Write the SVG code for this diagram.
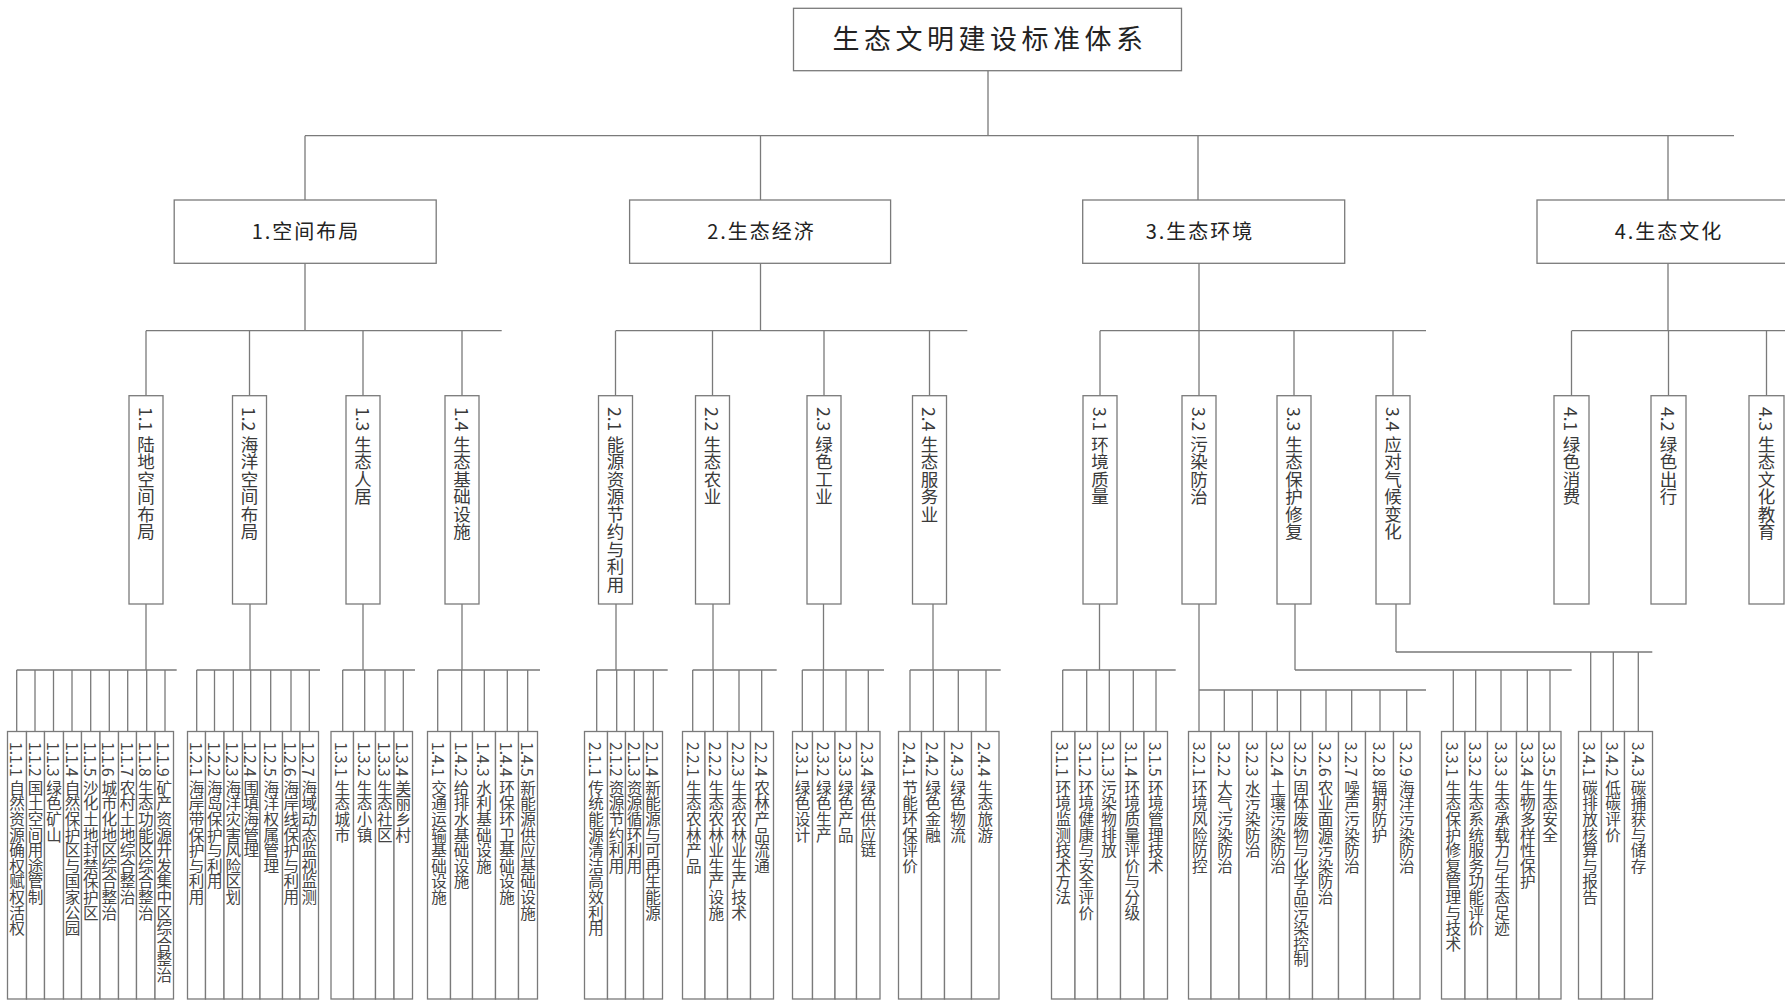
<svg xmlns="http://www.w3.org/2000/svg" width="1785" height="1000" viewBox="0 0 1785 1000">
<style>
rect{fill:#fff;stroke:#7a7a7a;stroke-width:1.3}
.c{fill:none;stroke:#7a7a7a;stroke-width:1.3}
text{font-family:"Noto Sans CJK SC","Liberation Sans",sans-serif;fill:#333}
.t0{font-size:27px;letter-spacing:4.5px;text-anchor:middle;fill:#222}
.t1{font-size:20px;letter-spacing:2px;text-anchor:middle;fill:#222}
.t2{font-size:17.5px;writing-mode:vertical-rl;fill:#3a3a3a}
.t3{font-size:15.6px;writing-mode:vertical-rl;fill:#444}
</style>
<rect width="1785" height="1000" style="fill:#fff;stroke:none"/>
<g id="connectors">
<path class="c" d="M988 70.7V135.7M305 135.7H1734M305 135.7V200M760.5 135.7V200M1198 135.7V200M1668 135.7V200"/>
<path class="c" d="M305 263.3V330.7M760.5 263.3V330.7M1199 263.3V330.7M1668 263.3V330.7"/>
<path class="c" d="M146 330.7H501.7M615.7 330.7H967.3M1100 330.7H1426M1571.7 330.7H1785"/>
<path class="c" d="M146 330.7V395.7M249.5 330.7V395.7M363 330.7V395.7M462 330.7V395.7M615.5 330.7V395.7M712.5 330.7V395.7M824 330.7V395.7M929.5 330.7V395.7M1100 330.7V395.7M1199 330.7V395.7M1294 330.7V395.7M1393 330.7V395.7M1571.5 330.7V395.7M1668.5 330.7V395.7M1766.5 330.7V395.7"/>
<path class="c" d="M146 604V670M250 604V670M363 604V670M462 604V670M616 604V670M713 604V670M823.5 604V670M933 604V670M1099.5 604V670M1199 604V690M1295 604V670M1396 604V652"/>
<path class="c" d="M16.7 670H176.7M196.7 670H320M342.7 670H415M437.7 670H540M596.7 670H667.7M692.7 670H776.7M802.3 670H884M910 670H1000.7M1062.7 670H1175.7M1199 690H1426M1295 670H1571.7M1396 652H1652.3"/>
<path class="c" d="M16.7 670V731.5M35 670V731.5M53.5 670V731.5M72 670V731.5M90.7 670V731.5M109.3 670V731.5M127.7 670V731.5M146.7 670V731.5M165 670V731.5"/>
<path class="c" d="M196.7 670V731.5M214.5 670V731.5M233.3 670V731.5M250.7 670V731.5M270.7 670V731.5M291 670V731.5M309.3 670V731.5"/>
<path class="c" d="M342.7 670V731.5M364.7 670V731.5M385 670V731.5M403.3 670V731.5"/>
<path class="c" d="M437.7 670V731.5M461.7 670V731.5M484.3 670V731.5M507.3 670V731.5M527.7 670V731.5"/>
<path class="c" d="M596.7 670V731.5M616.7 670V731.5M634.3 670V731.5M653.3 670V731.5"/>
<path class="c" d="M692.7 670V731.5M713.3 670V731.5M739 670V731.5M761.7 670V731.5"/>
<path class="c" d="M802.3 670V731.5M823.3 670V731.5M846 670V731.5M868.3 670V731.5"/>
<path class="c" d="M910 670V731.5M933.3 670V731.5M958.3 670V731.5M986 670V731.5"/>
<path class="c" d="M1062.7 670V731.5M1086.7 670V731.5M1109.3 670V731.5M1133.3 670V731.5M1156 670V731.5"/>
<path class="c" d="M1199 690V731.5M1224.3 690V731.5M1252.3 690V731.5M1277.3 690V731.5M1300.7 690V731.5M1326 690V731.5M1351.7 690V731.5M1380 690V731.5M1406.7 690V731.5"/>
<path class="c" d="M1453.3 670V731.5M1475.7 670V731.5M1501 670V731.5M1527.3 670V731.5M1550 670V731.5"/>
<path class="c" d="M1590.7 652V731.5M1613.3 652V731.5M1638.3 652V731.5"/>
</g>
<g id="root"><rect x="793.5" y="8.3" width="388" height="62.4"/><text class="t0" x="990" y="49">生态文明建设标准体系</text></g>
<g id="n1"><rect x="174.2" y="200" width="262" height="63.3"/><text class="t1" x="306" y="239">1.空间布局</text></g>
<g id="n2"><rect x="629.6" y="200" width="261" height="63.3"/><text class="t1" x="761.5" y="239">2.生态经济</text></g>
<g id="n3"><rect x="1082.7" y="200" width="262" height="63.3"/><text class="t1" x="1200" y="239">3.生态环境</text></g>
<g id="n4"><rect x="1537" y="200" width="262" height="63.3"/><text class="t1" x="1669" y="239">4.生态文化</text></g>
<g id="n1-1"><rect x="129" y="395.7" width="34" height="208.3"/><text class="t2" x="146" y="407">1.1 陆地空间布局</text></g>
<g id="n1-2"><rect x="232.5" y="395.7" width="34" height="208.3"/><text class="t2" x="249.5" y="407">1.2 海洋空间布局</text></g>
<g id="n1-3"><rect x="346" y="395.7" width="34" height="208.3"/><text class="t2" x="363" y="407">1.3 生态人居</text></g>
<g id="n1-4"><rect x="445" y="395.7" width="34" height="208.3"/><text class="t2" x="462" y="407">1.4 生态基础设施</text></g>
<g id="n2-1"><rect x="598.5" y="395.7" width="34" height="208.3"/><text class="t2" x="615.5" y="407">2.1 能源资源节约与利用</text></g>
<g id="n2-2"><rect x="695.5" y="395.7" width="34" height="208.3"/><text class="t2" x="712.5" y="407">2.2 生态农业</text></g>
<g id="n2-3"><rect x="807" y="395.7" width="34" height="208.3"/><text class="t2" x="824" y="407">2.3 绿色工业</text></g>
<g id="n2-4"><rect x="912.5" y="395.7" width="34" height="208.3"/><text class="t2" x="929.5" y="407">2.4 生态服务业</text></g>
<g id="n3-1"><rect x="1083" y="395.7" width="34" height="208.3"/><text class="t2" x="1100" y="407">3.1 环境质量</text></g>
<g id="n3-2"><rect x="1182" y="395.7" width="34" height="208.3"/><text class="t2" x="1199" y="407">3.2 污染防治</text></g>
<g id="n3-3"><rect x="1277" y="395.7" width="34" height="208.3"/><text class="t2" x="1294" y="407">3.3 生态保护修复</text></g>
<g id="n3-4"><rect x="1376" y="395.7" width="34" height="208.3"/><text class="t2" x="1393" y="407">3.4 应对气候变化</text></g>
<g id="n4-1"><rect x="1554" y="395.7" width="35" height="208.3"/><text class="t2" x="1571.5" y="407">4.1 绿色消费</text></g>
<g id="n4-2"><rect x="1651" y="395.7" width="35" height="208.3"/><text class="t2" x="1668.5" y="407">4.2 绿色出行</text></g>
<g id="n4-3"><rect x="1749" y="395.7" width="35" height="208.3"/><text class="t2" x="1766.5" y="407">4.3 生态文化教育</text></g>
<g id="n1-1-1"><rect x="7.5" y="731.5" width="19" height="267.5"/><text class="t3" x="17" y="742">1.1.1 自然资源确权赋权活权</text></g>
<g id="n1-1-2"><rect x="26.5" y="731.5" width="18" height="267.5"/><text class="t3" x="35.5" y="742">1.1.2 国土空间用途管制</text></g>
<g id="n1-1-3"><rect x="44.5" y="731.5" width="19" height="267.5"/><text class="t3" x="54" y="742">1.1.3 绿色矿山</text></g>
<g id="n1-1-4"><rect x="63.5" y="731.5" width="18" height="267.5"/><text class="t3" x="72.5" y="742">1.1.4 自然保护区与国家公园</text></g>
<g id="n1-1-5"><rect x="81.5" y="731.5" width="18.5" height="267.5"/><text class="t3" x="90.7" y="742">1.1.5 沙化土地封禁保护区</text></g>
<g id="n1-1-6"><rect x="100" y="731.5" width="18.5" height="267.5"/><text class="t3" x="109.3" y="742">1.1.6 城市化地区综合整治</text></g>
<g id="n1-1-7"><rect x="118.5" y="731.5" width="18" height="267.5"/><text class="t3" x="127.5" y="742">1.1.7 农村土地综合整治</text></g>
<g id="n1-1-8"><rect x="136.5" y="731.5" width="18.5" height="267.5"/><text class="t3" x="145.8" y="742">1.1.8 生态功能区综合整治</text></g>
<g id="n1-1-9"><rect x="155" y="731.5" width="18.5" height="267.5"/><text class="t3" x="164.3" y="742">1.1.9 矿产资源开发集中区综合整治</text></g>
<g id="n1-2-1"><rect x="187.5" y="731.5" width="18" height="267.5"/><text class="t3" x="196.5" y="742">1.2.1 海岸带保护与利用</text></g>
<g id="n1-2-2"><rect x="205.5" y="731.5" width="18.5" height="267.5"/><text class="t3" x="214.8" y="742">1.2.2 海岛保护与利用</text></g>
<g id="n1-2-3"><rect x="224" y="731.5" width="18.5" height="267.5"/><text class="t3" x="233.3" y="742">1.2.3 海洋灾害风险区划</text></g>
<g id="n1-2-4"><rect x="242.5" y="731.5" width="17.5" height="267.5"/><text class="t3" x="251.3" y="742">1.2.4 围填海管理</text></g>
<g id="n1-2-5"><rect x="260" y="731.5" width="22.5" height="267.5"/><text class="t3" x="271.3" y="742">1.2.5 海洋权属管理</text></g>
<g id="n1-2-6"><rect x="282.5" y="731.5" width="17.5" height="267.5"/><text class="t3" x="291.3" y="742">1.2.6 海岸线保护与利用</text></g>
<g id="n1-2-7"><rect x="300" y="731.5" width="18.5" height="267.5"/><text class="t3" x="309.3" y="742">1.2.7 海域动态监视监测</text></g>
<g id="n1-3-1"><rect x="331" y="731.5" width="22.5" height="267.5"/><text class="t3" x="342.3" y="742">1.3.1 生态城市</text></g>
<g id="n1-3-2"><rect x="353.5" y="731.5" width="22" height="267.5"/><text class="t3" x="364.5" y="742">1.3.2 生态小镇</text></g>
<g id="n1-3-3"><rect x="375.5" y="731.5" width="18.5" height="267.5"/><text class="t3" x="384.8" y="742">1.3.3 生态社区</text></g>
<g id="n1-3-4"><rect x="394" y="731.5" width="18.5" height="267.5"/><text class="t3" x="403.3" y="742">1.3.4 美丽乡村</text></g>
<g id="n1-4-1"><rect x="427.5" y="731.5" width="23" height="267.5"/><text class="t3" x="439" y="742">1.4.1 交通运输基础设施</text></g>
<g id="n1-4-2"><rect x="450.5" y="731.5" width="22" height="267.5"/><text class="t3" x="461.5" y="742">1.4.2 给排水基础设施</text></g>
<g id="n1-4-3"><rect x="472.5" y="731.5" width="23" height="267.5"/><text class="t3" x="484" y="742">1.4.3 水利基础设施</text></g>
<g id="n1-4-4"><rect x="495.5" y="731.5" width="23" height="267.5"/><text class="t3" x="507" y="742">1.4.4 环保环卫基础设施</text></g>
<g id="n1-4-5"><rect x="518.5" y="731.5" width="19" height="267.5"/><text class="t3" x="528" y="742">1.4.5 新能源供应基础设施</text></g>
<g id="n2-1-1"><rect x="584.5" y="731.5" width="23" height="267.5"/><text class="t3" x="596" y="742">2.1.1 传统能源清洁高效利用</text></g>
<g id="n2-1-2"><rect x="607.5" y="731.5" width="18" height="267.5"/><text class="t3" x="616.5" y="742">2.1.2 资源节约利用</text></g>
<g id="n2-1-3"><rect x="625.5" y="731.5" width="18" height="267.5"/><text class="t3" x="634.5" y="742">2.1.3 资源循环利用</text></g>
<g id="n2-1-4"><rect x="643.5" y="731.5" width="19" height="267.5"/><text class="t3" x="653" y="742">2.1.4 新能源与可再生能源</text></g>
<g id="n2-2-1"><rect x="682.5" y="731.5" width="22.5" height="267.5"/><text class="t3" x="693.7" y="742">2.2.1 生态农林产品</text></g>
<g id="n2-2-2"><rect x="705" y="731.5" width="22.5" height="267.5"/><text class="t3" x="716.2" y="742">2.2.2 生态农林业生产设施</text></g>
<g id="n2-2-3"><rect x="727.5" y="731.5" width="23" height="267.5"/><text class="t3" x="739" y="742">2.2.3 生态农林业生产技术</text></g>
<g id="n2-2-4"><rect x="750.5" y="731.5" width="23" height="267.5"/><text class="t3" x="762" y="742">2.2.4 农林产品流通</text></g>
<g id="n2-3-1"><rect x="792.5" y="731.5" width="20" height="267.5"/><text class="t3" x="802.5" y="742">2.3.1 绿色设计</text></g>
<g id="n2-3-2"><rect x="812.5" y="731.5" width="22.5" height="267.5"/><text class="t3" x="823.7" y="742">2.3.2 绿色生产</text></g>
<g id="n2-3-3"><rect x="835" y="731.5" width="21.5" height="267.5"/><text class="t3" x="845.8" y="742">2.3.3 绿色产品</text></g>
<g id="n2-3-4"><rect x="856.5" y="731.5" width="23.5" height="267.5"/><text class="t3" x="868.3" y="742">2.3.4 绿色供应链</text></g>
<g id="n2-4-1"><rect x="898.5" y="731.5" width="23" height="267.5"/><text class="t3" x="910" y="742">2.4.1 节能环保评价</text></g>
<g id="n2-4-2"><rect x="921.5" y="731.5" width="23" height="267.5"/><text class="t3" x="933" y="742">2.4.2 绿色金融</text></g>
<g id="n2-4-3"><rect x="944.5" y="731.5" width="27" height="267.5"/><text class="t3" x="958" y="742">2.4.3 绿色物流</text></g>
<g id="n2-4-4"><rect x="971.5" y="731.5" width="27.5" height="267.5"/><text class="t3" x="985.3" y="742">2.4.4 生态旅游</text></g>
<g id="n3-1-1"><rect x="1051.5" y="731.5" width="23.5" height="267.5"/><text class="t3" x="1063.3" y="742">3.1.1 环境监测技术方法</text></g>
<g id="n3-1-2"><rect x="1075" y="731.5" width="22.5" height="267.5"/><text class="t3" x="1086.3" y="742">3.1.2 环境健康与安全评价</text></g>
<g id="n3-1-3"><rect x="1097.5" y="731.5" width="23" height="267.5"/><text class="t3" x="1109" y="742">3.1.3 污染物排放</text></g>
<g id="n3-1-4"><rect x="1120.5" y="731.5" width="23.5" height="267.5"/><text class="t3" x="1132.3" y="742">3.1.4 环境质量评价与分级</text></g>
<g id="n3-1-5"><rect x="1144" y="731.5" width="23.5" height="267.5"/><text class="t3" x="1155.8" y="742">3.1.5 环境管理技术</text></g>
<g id="n3-2-1"><rect x="1188.5" y="731.5" width="22.5" height="267.5"/><text class="t3" x="1199.7" y="742">3.2.1 环境风险防控</text></g>
<g id="n3-2-2"><rect x="1211" y="731.5" width="28" height="267.5"/><text class="t3" x="1225" y="742">3.2.2 大气污染防治</text></g>
<g id="n3-2-3"><rect x="1239" y="731.5" width="27.5" height="267.5"/><text class="t3" x="1252.7" y="742">3.2.3 水污染防治</text></g>
<g id="n3-2-4"><rect x="1266.5" y="731.5" width="23" height="267.5"/><text class="t3" x="1278" y="742">3.2.4 土壤污染防治</text></g>
<g id="n3-2-5"><rect x="1289.5" y="731.5" width="23" height="267.5"/><text class="t3" x="1301" y="742">3.2.5 固体废物与化学品污染控制</text></g>
<g id="n3-2-6"><rect x="1312.5" y="731.5" width="26" height="267.5"/><text class="t3" x="1325.5" y="742">3.2.6 农业面源污染防治</text></g>
<g id="n3-2-7"><rect x="1338.5" y="731.5" width="27" height="267.5"/><text class="t3" x="1352" y="742">3.2.7 噪声污染防治</text></g>
<g id="n3-2-8"><rect x="1365.5" y="731.5" width="28" height="267.5"/><text class="t3" x="1379.5" y="742">3.2.8 辐射防护</text></g>
<g id="n3-2-9"><rect x="1393.5" y="731.5" width="26.5" height="267.5"/><text class="t3" x="1406.7" y="742">3.2.9 海洋污染防治</text></g>
<g id="n3-3-1"><rect x="1441.5" y="731.5" width="23.5" height="267.5"/><text class="t3" x="1453.3" y="742">3.3.1 生态保护修复管理与技术</text></g>
<g id="n3-3-2"><rect x="1465" y="731.5" width="22.5" height="267.5"/><text class="t3" x="1476.3" y="742">3.3.2 生态系统服务功能评价</text></g>
<g id="n3-3-3"><rect x="1487.5" y="731.5" width="29" height="267.5"/><text class="t3" x="1502" y="742">3.3.3 生态承载力与生态足迹</text></g>
<g id="n3-3-4"><rect x="1516.5" y="731.5" width="22.5" height="267.5"/><text class="t3" x="1527.7" y="742">3.3.4 生物多样性保护</text></g>
<g id="n3-3-5"><rect x="1539" y="731.5" width="22" height="267.5"/><text class="t3" x="1550" y="742">3.3.5 生态安全</text></g>
<g id="n3-4-1"><rect x="1578.5" y="731.5" width="23" height="267.5"/><text class="t3" x="1590" y="742">3.4.1 碳排放核算与报告</text></g>
<g id="n3-4-2"><rect x="1601.5" y="731.5" width="23" height="267.5"/><text class="t3" x="1613" y="742">3.4.2 低碳评价</text></g>
<g id="n3-4-3"><rect x="1624.5" y="731.5" width="28" height="267.5"/><text class="t3" x="1638.5" y="742">3.4.3 碳捕获与储存</text></g>
</svg>
